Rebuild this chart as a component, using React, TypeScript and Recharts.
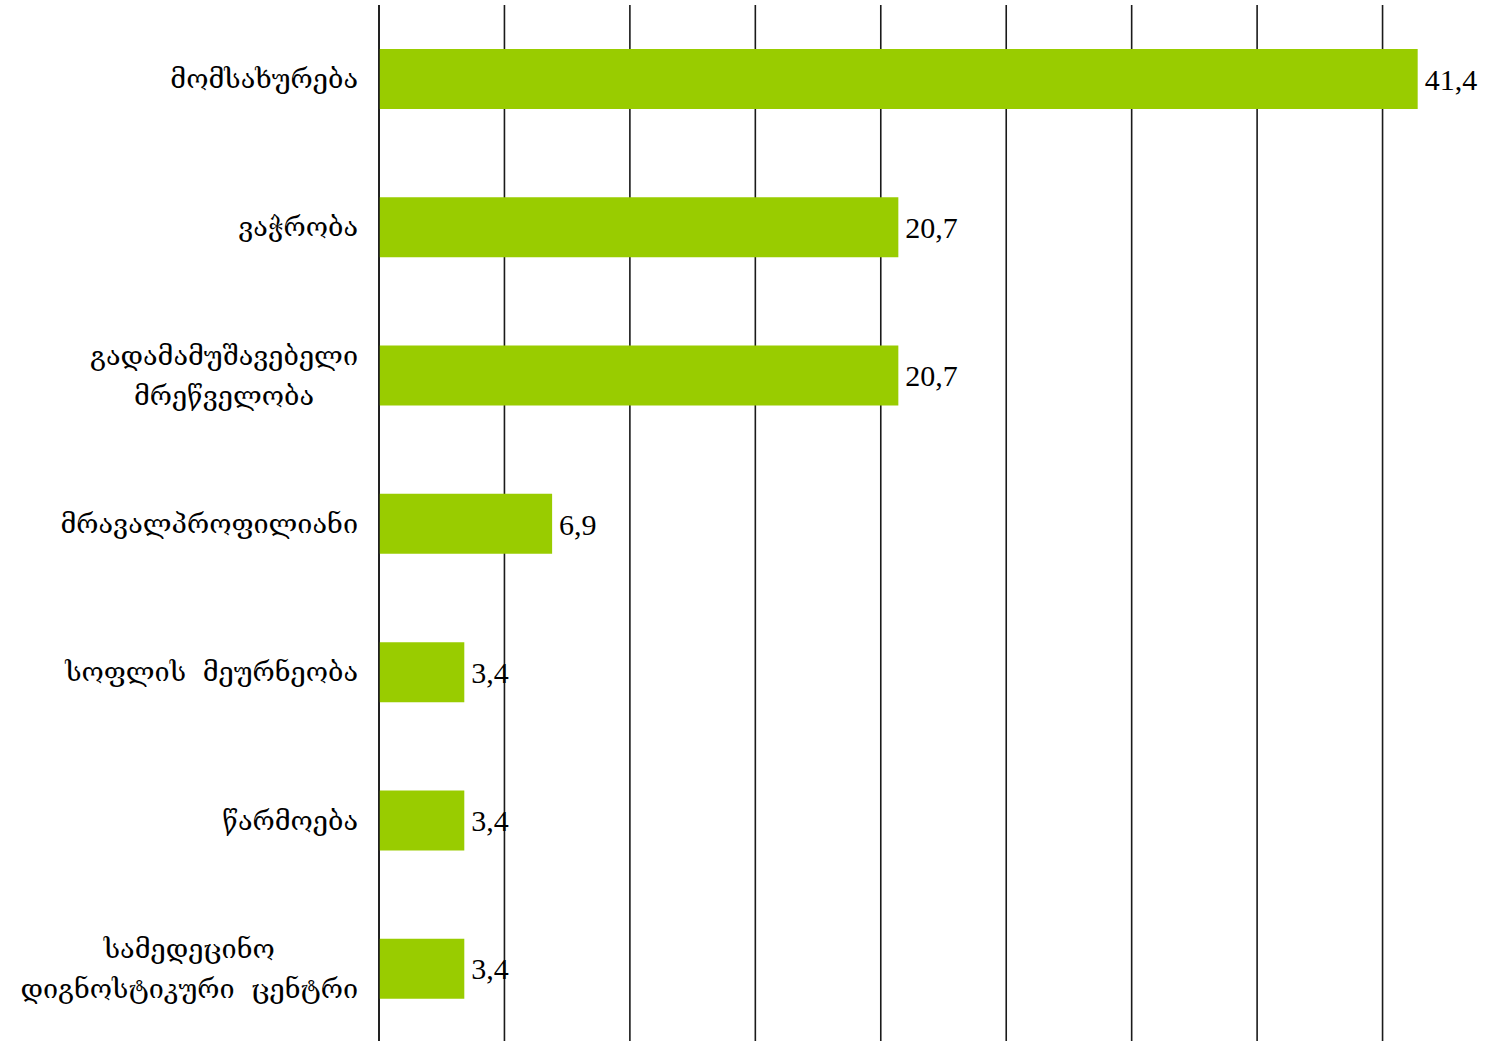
import React from "react";
import { BarChart, Bar, XAxis, YAxis, CartesianGrid, LabelList } from "recharts";

const categories = [
  "მომსახურება",
  "ვაჭრობა",
  "გადამამუშავებელი\nმრეწველობა",
  "მრავალპროფილიანი",
  "სოფლის მეურნეობა",
  "წარმოება",
  "სამედეცინო\nდიგნოსტიკური ცენტრი",
];
const values = [41.4, 20.7, 20.7, 6.9, 3.4, 3.4, 3.4];
const xTicks = [0, 5, 10, 15, 20, 25, 30, 35, 40, 45];

const data = categories.map((name, i) => ({ name, value: values[i] }));

const GEO_FONT = "'DejaVu Serif', 'DejaVu Sans', serif";
const NUM_FONT = "'Liberation Serif', 'Times New Roman', serif";

const CategoryTick = (props: any) => {
  const { x, y, payload } = props;
  const lines = String(payload.value).split("\n");
  const w = 400;
  const gap = 21;
  return (
    <foreignObject x={x - w} y={y - 70} width={w - gap} height={140}>
      <div
        style={{
          width: "100%",
          height: "100%",
          display: "flex",
          alignItems: "center",
          justifyContent: "flex-end",
        }}
      >
        <div
          style={{
            textAlign: "center",
            fontFamily: GEO_FONT,
            fontSize: 27,
            lineHeight: "40px",
            wordSpacing: "8px",
            color: "#000",
            whiteSpace: "nowrap",
          }}
        >
          {lines.map((l, i) => (
            <div key={i}>{l}</div>
          ))}
        </div>
      </div>
    </foreignObject>
  );
};

const fmt = (v: any) => Number(v).toFixed(1).replace(".", ",");

export default function App() {
  return (
    <div style={{ position: "absolute", left: 0, top: 0, background: "#fff" }}>
      <BarChart
        width={1508}
        height={1043}
        data={data}
        layout="vertical"
        margin={{ top: 5, right: 0, bottom: 0, left: 0 }}
        barSize={60}
      >
        <CartesianGrid
          horizontal={false}
          vertical={true}
          stroke="#1a1a1a"
          strokeWidth={1.6}
        />
        <XAxis
          type="number"
          domain={[0, 45]}
          ticks={xTicks}
          hide
        />
        <YAxis
          type="category"
          dataKey="name"
          width={379}
          axisLine={{ stroke: "#1a1a1a", strokeWidth: 1.6 }}
          tickLine={false}
          tickSize={0}
          tickMargin={0}
          tick={<CategoryTick />}
          interval={0}
        />
        <Bar dataKey="value" fill="#99CC00" isAnimationActive={false}>
          <LabelList
            dataKey="value"
            position="right"
            offset={7}
            formatter={fmt}
            style={{ fontFamily: NUM_FONT, fontSize: 30, fill: "#000" }}
          />
        </Bar>
      </BarChart>
    </div>
  );
}
